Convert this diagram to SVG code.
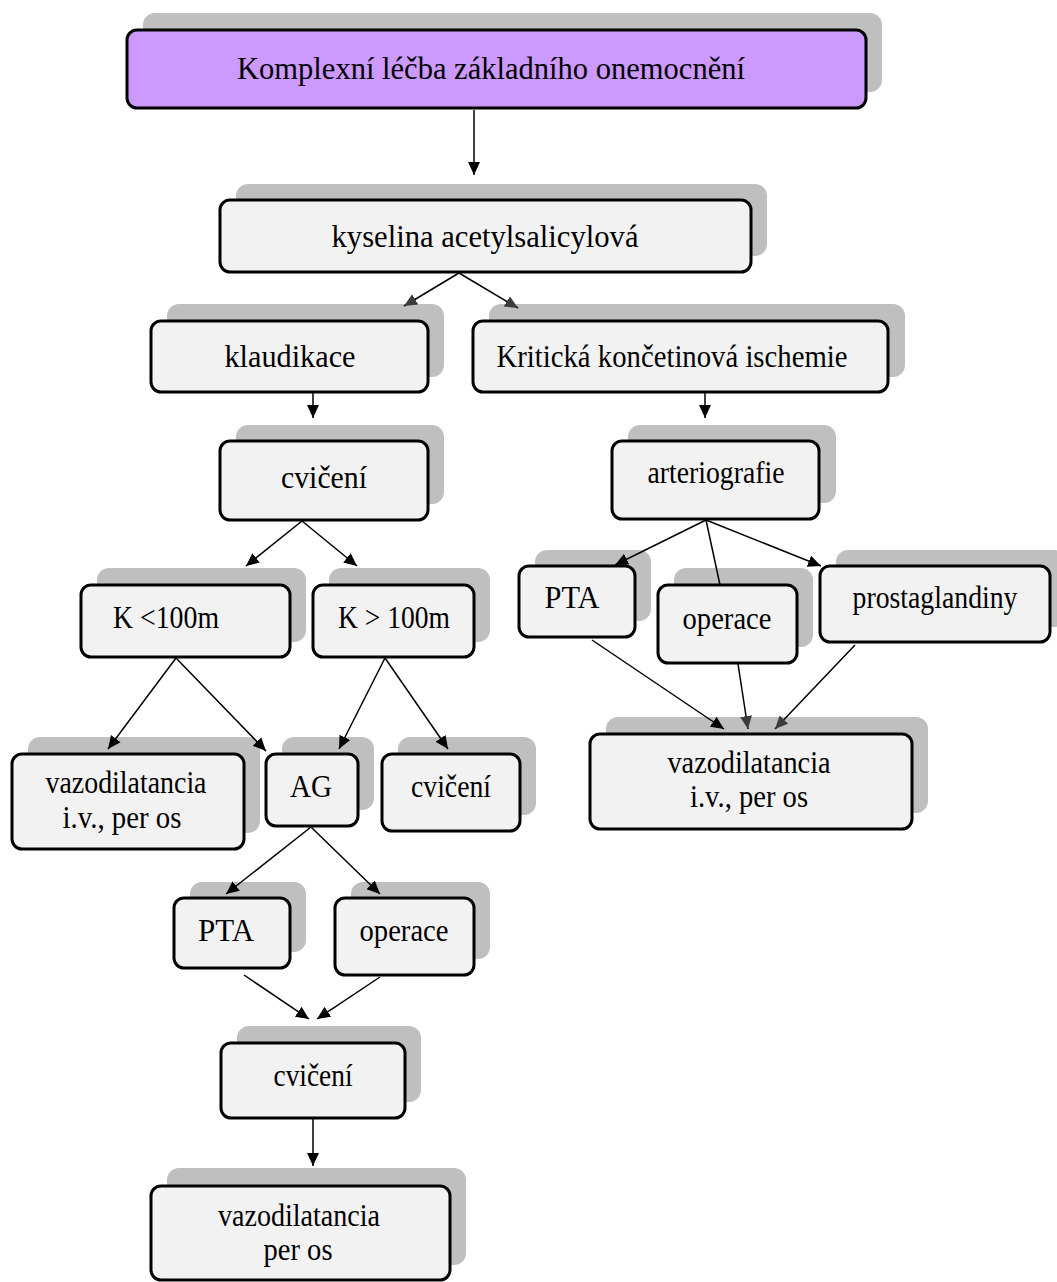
<svg xmlns="http://www.w3.org/2000/svg" width="1057" height="1282" viewBox="0 0 1057 1282">
<style>
.sh{fill:#bfbfbf}
.bx{fill:#f2f2f2;stroke:#000;stroke-width:3}
.top{fill:#cc99ff}
.t{font-family:"Liberation Serif","Times New Roman",serif;font-size:32px;fill:#000;text-anchor:middle}
.c line{stroke:#000;stroke-width:1.5}
</style>
<defs>
<marker id="ah" viewBox="0 0 12 12" refX="12" refY="6" markerWidth="13" markerHeight="13" orient="auto" markerUnits="userSpaceOnUse"><path d="M0,0.5 L12,6 L0,11.5 z" fill="#000"/></marker>
<marker id="ahg" viewBox="0 0 12 12" refX="12" refY="6" markerWidth="13" markerHeight="13" orient="auto" markerUnits="userSpaceOnUse"><path d="M0,0.5 L12,6 L0,11.5 z" fill="#3c3c3c"/></marker>
</defs>
<rect width="1057" height="1282" fill="#fff"/>

<g id="n-top">
<rect class="sh" x="143" y="13" width="739" height="79" rx="12"/>
<rect class="bx top" x="127" y="30" width="739" height="78" rx="10"/>
<text class="t" x="491" y="79" textLength="508" lengthAdjust="spacingAndGlyphs">Komplexní léčba základního onemocnění</text>
</g>
<g id="n-asa">
<rect class="sh" x="236" y="184" width="531" height="72" rx="12"/>
<rect class="bx" x="220" y="200" width="531" height="72" rx="10"/>
<text class="t" x="485" y="247" textLength="307" lengthAdjust="spacingAndGlyphs">kyselina acetylsalicylová</text>
</g>
<g id="n-klaud">
<rect class="sh" x="167" y="304" width="277" height="73" rx="12"/>
<rect class="bx" x="151" y="321" width="277" height="71" rx="10"/>
<text class="t" x="290" y="367" textLength="131" lengthAdjust="spacingAndGlyphs">klaudikace</text>
</g>
<g id="n-kki">
<rect class="sh" x="489" y="304" width="416" height="73" rx="12"/>
<rect class="bx" x="473" y="321" width="415" height="71" rx="10"/>
<text class="t" x="672" y="367" textLength="351" lengthAdjust="spacingAndGlyphs">Kritická končetinová ischemie</text>
</g>
<g id="n-cvic1">
<rect class="sh" x="236" y="425" width="208" height="79" rx="12"/>
<rect class="bx" x="220" y="441" width="208" height="79" rx="10"/>
<text class="t" x="324" y="488" textLength="86" lengthAdjust="spacingAndGlyphs">cvičení</text>
</g>
<g id="n-arterio">
<rect class="sh" x="628" y="425" width="208" height="78" rx="12"/>
<rect class="bx" x="612" y="441" width="207" height="78" rx="10"/>
<text class="t" x="716" y="483" textLength="137" lengthAdjust="spacingAndGlyphs">arteriografie</text>
</g>
<g id="n-k100a">
<rect class="sh" x="97" y="568" width="209" height="74" rx="12"/>
<rect class="bx" x="81" y="585" width="209" height="72" rx="10"/>
<text class="t" x="166" y="628" textLength="106" lengthAdjust="spacingAndGlyphs">K &lt;100m</text>
</g>
<g id="n-k100b">
<rect class="sh" x="329" y="568" width="161" height="74" rx="12"/>
<rect class="bx" x="313" y="585" width="161" height="72" rx="10"/>
<text class="t" x="394" y="628" textLength="112" lengthAdjust="spacingAndGlyphs">K &gt; 100m</text>
</g>
<g id="n-vazo1">
<rect class="sh" x="28" y="737" width="232" height="96" rx="12"/>
<rect class="bx" x="12" y="754" width="232" height="95" rx="10"/>
<text class="t" x="126" y="793" textLength="161" lengthAdjust="spacingAndGlyphs">vazodilatancia</text>
<text class="t" x="122" y="828" textLength="119" lengthAdjust="spacingAndGlyphs">i.v., per os</text>
</g>
<g id="n-ag">
<rect class="sh" x="282" y="737" width="92" height="73" rx="12"/>
<rect class="bx" x="266" y="754" width="92" height="72" rx="10"/>
<text class="t" x="311" y="797" textLength="42" lengthAdjust="spacingAndGlyphs">AG</text>
</g>
<g id="n-cvic2">
<rect class="sh" x="398" y="737" width="138" height="78" rx="12"/>
<rect class="bx" x="382" y="754" width="138" height="77" rx="10"/>
<text class="t" x="451" y="797" textLength="80" lengthAdjust="spacingAndGlyphs">cvičení</text>
</g>
<g id="n-pta1">
<rect class="sh" x="190" y="882" width="116" height="70" rx="12"/>
<rect class="bx" x="174" y="898" width="116" height="70" rx="10"/>
<text class="t" x="226" y="941" textLength="56" lengthAdjust="spacingAndGlyphs">PTA</text>
</g>
<g id="n-oper1">
<rect class="sh" x="351" y="882" width="139" height="77" rx="12"/>
<rect class="bx" x="335" y="898" width="139" height="77" rx="10"/>
<text class="t" x="404" y="941" textLength="89" lengthAdjust="spacingAndGlyphs">operace</text>
</g>
<g id="n-cvic3">
<rect class="sh" x="237" y="1026" width="184" height="76" rx="12"/>
<rect class="bx" x="221" y="1043" width="184" height="75" rx="10"/>
<text class="t" x="313" y="1086" textLength="79" lengthAdjust="spacingAndGlyphs">cvičení</text>
</g>
<g id="n-vazo3">
<rect class="sh" x="167" y="1168" width="299" height="97" rx="12"/>
<rect class="bx" x="151" y="1186" width="299" height="94" rx="10"/>
<text class="t" x="299" y="1226" textLength="162" lengthAdjust="spacingAndGlyphs">vazodilatancia</text>
<text class="t" x="298" y="1260" textLength="69" lengthAdjust="spacingAndGlyphs">per os</text>
</g>
<g id="n-pta2">
<rect class="sh" x="535" y="550" width="116" height="71" rx="12"/>
<rect class="bx" x="519" y="566" width="116" height="71" rx="10"/>
<text class="t" x="572" y="608" textLength="55" lengthAdjust="spacingAndGlyphs">PTA</text>
</g>
<g id="n-oper2">
<rect class="sh" x="674" y="568" width="139" height="79" rx="12"/>
<rect class="bx" x="658" y="585" width="139" height="78" rx="10"/>
<text class="t" x="727" y="629" textLength="89" lengthAdjust="spacingAndGlyphs">operace</text>
</g>
<g id="n-prost">
<rect class="sh" x="836" y="550" width="230" height="77" rx="12"/>
<rect class="bx" x="820" y="566" width="230" height="76" rx="10"/>
<text class="t" x="935" y="608" textLength="165" lengthAdjust="spacingAndGlyphs">prostaglandiny</text>
</g>
<g id="n-vazo2">
<rect class="sh" x="606" y="717" width="322" height="96" rx="12"/>
<rect class="bx" x="590" y="734" width="322" height="95" rx="10"/>
<text class="t" x="749" y="773" textLength="163" lengthAdjust="spacingAndGlyphs">vazodilatancia</text>
<text class="t" x="749" y="807" textLength="118" lengthAdjust="spacingAndGlyphs">i.v., per os</text>
</g>

<g id="connectors" class="c">
<line x1="474" y1="110" x2="474" y2="175" marker-end="url(#ah)"/>
<line x1="459" y1="273" x2="404" y2="306" marker-end="url(#ahg)"/>
<line x1="459" y1="273" x2="518" y2="308" marker-end="url(#ahg)"/>
<line x1="313" y1="393" x2="313" y2="418" marker-end="url(#ah)"/>
<line x1="705" y1="393" x2="705" y2="418" marker-end="url(#ah)"/>
<line x1="302" y1="521" x2="246" y2="566" marker-end="url(#ah)"/>
<line x1="302" y1="521" x2="357" y2="566" marker-end="url(#ah)"/>
<line x1="176" y1="658" x2="108" y2="749" marker-end="url(#ah)"/>
<line x1="176" y1="658" x2="266" y2="751" marker-end="url(#ah)"/>
<line x1="385" y1="658" x2="339" y2="749" marker-end="url(#ah)"/>
<line x1="385" y1="658" x2="448" y2="749" marker-end="url(#ah)"/>
<line x1="311" y1="827" x2="226" y2="894" marker-end="url(#ah)"/>
<line x1="311" y1="827" x2="380" y2="894" marker-end="url(#ah)"/>
<line x1="244" y1="975" x2="309" y2="1019" marker-end="url(#ah)"/>
<line x1="380" y1="977" x2="317" y2="1019" marker-end="url(#ah)"/>
<line x1="313" y1="1119" x2="313" y2="1166" marker-end="url(#ah)"/>
<line x1="706" y1="520" x2="615" y2="565" marker-end="url(#ah)"/>
<line x1="706" y1="520" x2="720" y2="585"/>
<line x1="706" y1="520" x2="821" y2="566" marker-end="url(#ah)"/>
<line x1="592" y1="640" x2="724" y2="729" marker-end="url(#ah)"/>
<line x1="738" y1="664" x2="748" y2="729" marker-end="url(#ahg)"/>
<line x1="855" y1="645" x2="775" y2="729" marker-end="url(#ahg)"/>
</g>
</svg>
